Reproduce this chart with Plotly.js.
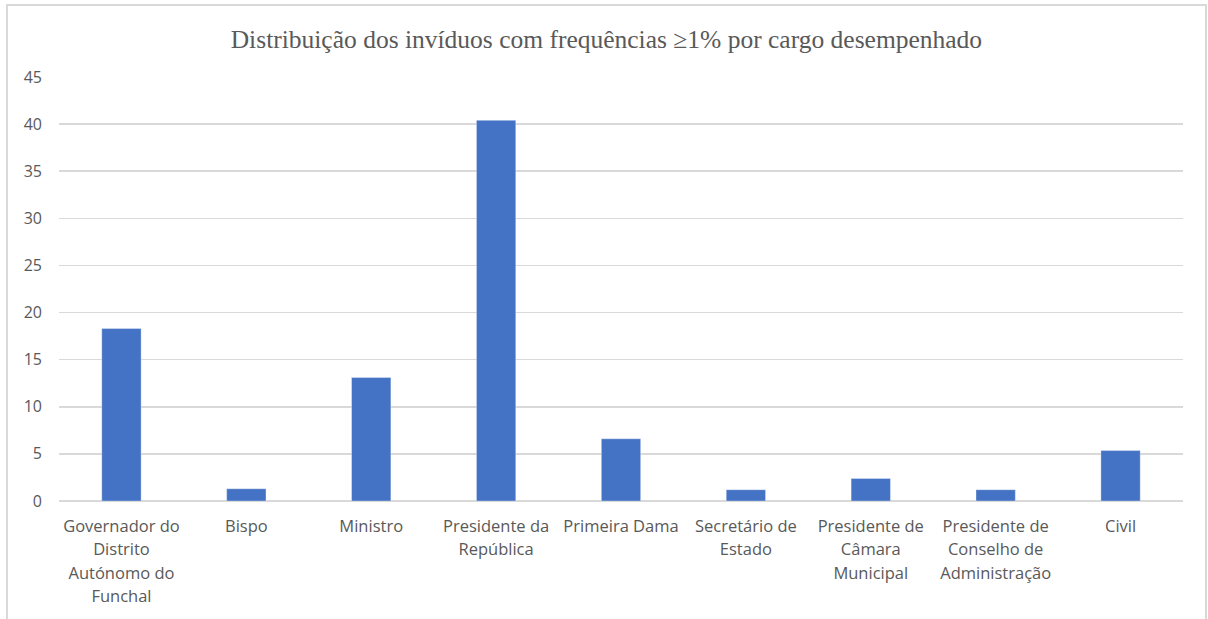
<!DOCTYPE html>
<html>
<head>
<meta charset="utf-8">
<script src="https://cdn.plot.ly/plotly-3.0.1.min.js"></script>
<style>
  html, body { margin: 0; padding: 0; background: #ffffff; }
  #wrap { position: relative; width: 1208px; height: 619px; overflow: hidden; }
  #chart { position: absolute; left: 0; top: 0; width: 1208px; height: 619px; }
  #frame { position: absolute; left: 6px; top: 4px; width: 1197px; height: 640px;
           border: 2px solid #d9d9d9; pointer-events: none; }
</style>
</head>
<body>
<div id="wrap">
  <div id="chart"></div>
  <div id="frame"></div>
</div>
<script>
const categories = [
  "Governador do Distrito Autónomo do Funchal",
  "Bispo",
  "Ministro",
  "Presidente da República",
  "Primeira Dama",
  "Secretário de Estado",
  "Presidente de Câmara Municipal",
  "Presidente de Conselho de Administração",
  "Civil"
];
const tickLabels = [
  "Governador do<br>Distrito<br>Autónomo do<br>Funchal",
  "Bispo",
  "Ministro",
  "Presidente da<br>República",
  "Primeira Dama",
  "Secretário de<br>Estado",
  "Presidente de<br>Câmara<br>Municipal",
  "Presidente de<br>Conselho de<br>Administração",
  "Civil"
];
const values = [18.3, 1.3, 13.1, 40.4, 6.6, 1.2, 2.4, 1.2, 5.35];
const yTicks = [0, 5, 10, 15, 20, 25, 30, 35, 40, 45];

const trace = {
  type: "bar",
  x: categories,
  y: values,
  marker: { color: "#4472C4", line: { color: "rgba(255,255,255,0.35)", width: 1 } },
  hoverinfo: "skip"
};

const layout = {
  width: 1208,
  height: 619,
  margin: { l: 59, r: 25, t: 77, b: 118 },
  paper_bgcolor: "#ffffff",
  plot_bgcolor: "#ffffff",
  showlegend: false,
  bargap: 0.685,
  title: {
    text: "Distribuição dos invíduos com frequências ≥1% por cargo desempenhado",
    font: { family: "Liberation Serif, Times New Roman, serif", size: 25.5, color: "#595959" },
    x: 0.502, xanchor: "center", xref: "container",
    y: 1, yref: "container", yanchor: "top", pad: { t: 30 }
  },
  xaxis: {
    type: "category",
    tickmode: "array",
    tickvals: categories,
    ticktext: tickLabels,
    tickangle: 0,
    showgrid: false,
    showline: false,
    zeroline: false,
    ticks: "",
    ticklabelstandoff: 13,
    tickfont: { family: "Open Sans, sans-serif", size: 16.5, color: "#595959" }
  },
  yaxis: {
    range: [0, 45],
    tickmode: "array",
    tickvals: yTicks,
    showgrid: true,
    gridcolor: "#d9d9d9",
    gridwidth: 1.5,
    zeroline: true,
    zerolinecolor: "#d9d9d9",
    zerolinewidth: 1.5,
    showline: false,
    ticks: "",
    ticklabelstandoff: 16,
    tickfont: { family: "Open Sans, sans-serif", size: 16, color: "#595959" }
  }
};

Plotly.newPlot("chart", [trace], layout, { displayModeBar: false, staticPlot: true }).then(function () {
  // widen the line spacing of the wrapped category labels to match the reference
  document.querySelectorAll(".xtick text").forEach(function (txt) {
    const lines = txt.querySelectorAll("tspan.line");
    lines.forEach(function (t, i) {
      if (i > 0) t.setAttribute("dy", (i * 1.43) + "em");
    });
  });
});
</script>
</body>
</html>
